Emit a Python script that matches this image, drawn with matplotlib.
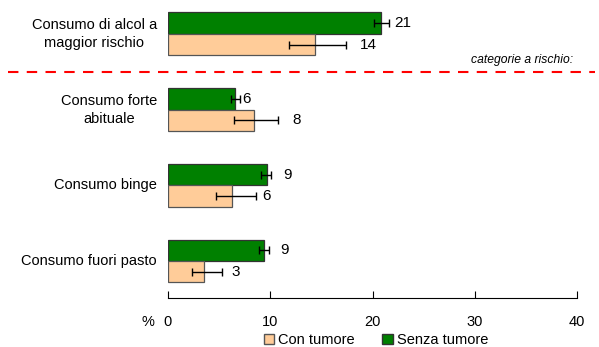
import numpy as np
import matplotlib
matplotlib.use("Agg")
import matplotlib.pyplot as plt
from matplotlib.patches import Patch
import matplotlib.transforms as mtransforms

plt.rcParams['font.family'] = ['Liberation Sans', 'DejaVu Sans']

categorie = ["Consumo di alcol a\nmaggior rischio", "Consumo forte\nabituale",
             "Consumo binge", "Consumo fuori pasto"]
con_tumore = [14.4, 8.4, 6.3, 3.55]
con_lo = [11.8, 6.5, 4.7, 2.3]
con_hi = [17.4, 10.8, 8.6, 5.3]
con_lab = ["14", "8", "6", "3"]
senza_tumore = [20.8, 6.55, 9.65, 9.4]
senza_lo = [20.1, 6.2, 9.05, 8.9]
senza_hi = [21.6, 7.0, 10.1, 9.9]
senza_lab = ["21", "6", "9", "9"]
ticks = [0, 10, 20, 30, 40]

verde = "#008000"
pesca = "#FFCC99"

# gap (in x units) between error bar end and value label
gap_senza = [0.5, 0.3, 1.15, 1.1]
gap_con = [1.4, 1.35, 0.6, 0.9]

fig = plt.figure(figsize=(5.99, 3.47), dpi=100)
ax = fig.add_axes([168/599, 49/347, 409/599, (347-5-49)/347])

pos = np.arange(len(categorie))[::-1].astype(float)  # first category on top
h = 0.284

con = np.array(con_tumore); sen = np.array(senza_tumore)
ax.barh(pos + h/2, sen, height=h, color=verde, edgecolor="#333333", linewidth=0.9)
ax.barh(pos - h/2, con, height=h, color=pesca, edgecolor="#555555", linewidth=0.9)
ax.errorbar(sen, pos + h/2, xerr=[sen - np.array(senza_lo), np.array(senza_hi) - sen],
            fmt='none', ecolor='black', elinewidth=1, capsize=3, capthick=1)
ax.errorbar(con, pos - h/2, xerr=[con - np.array(con_lo), np.array(con_hi) - con],
            fmt='none', ecolor='black', elinewidth=1, capsize=3, capthick=1)

for i in range(len(categorie)):
    ax.text(senza_hi[i] + gap_senza[i], pos[i] + h/2, senza_lab[i], va='center', ha='left', fontsize=11)
    ax.text(con_hi[i] + gap_con[i], pos[i] - h/2, con_lab[i], va='center', ha='left', fontsize=11)

trans = mtransforms.blended_transform_factory(ax.transAxes, ax.transData)
for i, c in enumerate(categorie):
    ax.text(-0.027, pos[i], c, transform=trans, ha='right', va='center',
            multialignment='center', fontsize=10.5, linespacing=1.35)

# separation line for risk categories
ax.plot([-0.391, 1.044], [2.498, 2.498], transform=trans, color='red', lw=1.5,
        ls=(0, (5, 4)), clip_on=False)
ax.text(0.99, 2.66, "categorie a rischio:", transform=trans, ha='right', va='center',
        fontsize=8.7, style='italic')

ax.set_xlim(0, 40)
ax.set_ylim(-0.489, 3.383)
ax.set_xticks(ticks)
ax.tick_params(axis='x', direction='in', length=5, pad=12, labelsize=10.5)
ax.set_yticks([])
for s in ['top', 'right', 'left']:
    ax.spines[s].set_visible(False)
fig.text(148/599, 1 - 322/347, "%", ha='center', va='center', fontsize=10.5)

handles = [Patch(facecolor=pesca, edgecolor='#555555', label='Con tumore'),
           Patch(facecolor=verde, edgecolor='#333333', label='Senza tumore')]
fig.legend(handles=handles, loc='center', bbox_to_anchor=(376/599, 1 - 340/347), ncol=2,
           frameon=False, fontsize=10.5, handlelength=0.7, handleheight=0.7,
           handletextpad=0.3, columnspacing=1.9, borderpad=0)

fig.savefig("out.png", dpi=100)
